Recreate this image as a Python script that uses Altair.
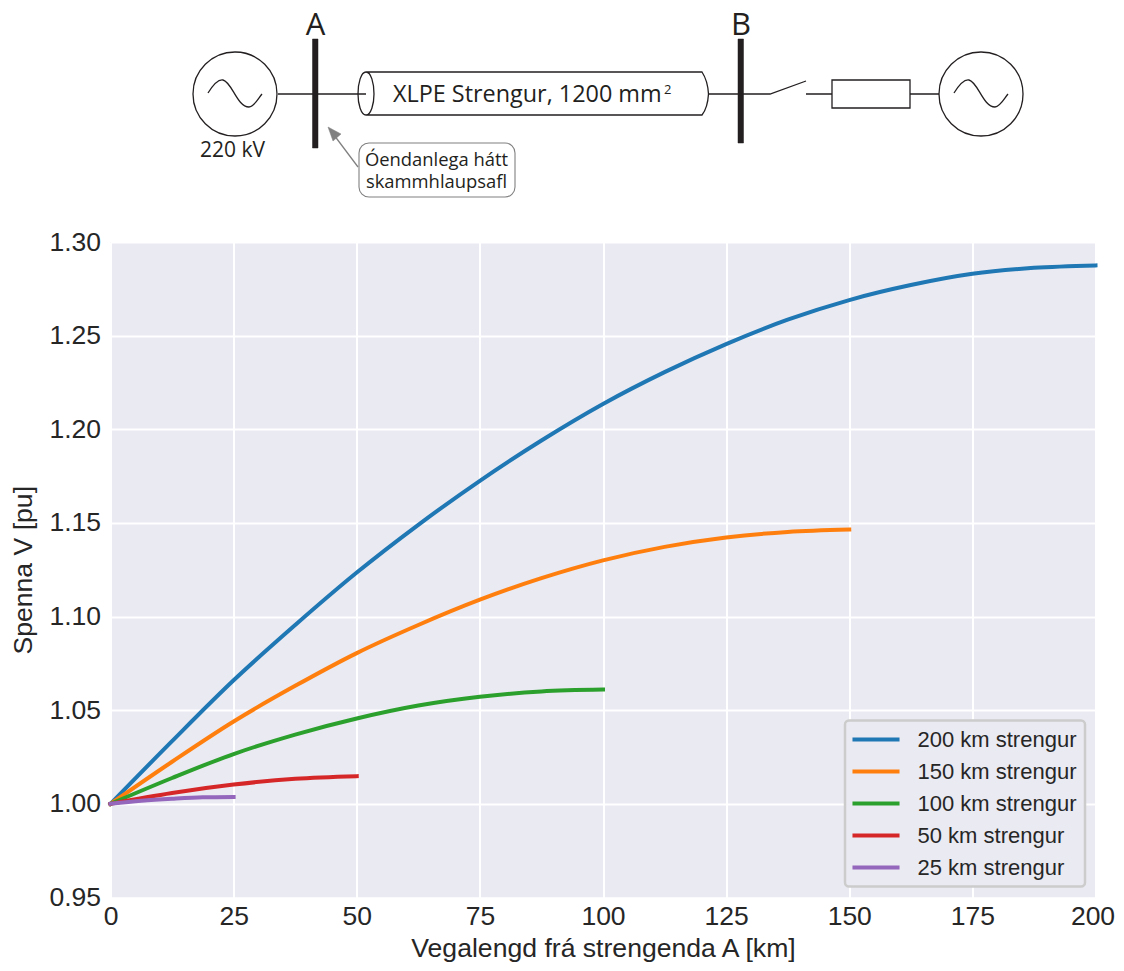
import altair as alt
import pandas as pd

# ---- readings from the picture ----
series_names = ["200 km strengur", "150 km strengur", "100 km strengur", "50 km strengur", "25 km strengur"]
series_colors = ["#1f77b4", "#ff7f0e", "#2ca02c", "#d62728", "#9467bd"]

x_200 = [0, 12.5, 25, 37.5, 50, 62.5, 75, 87.5, 100, 112.5, 125, 137.5, 150, 162.5, 175, 187.5, 200]
v_200 = [1.000, 1.0335, 1.066, 1.0955, 1.1235, 1.149, 1.1725, 1.194, 1.2135, 1.2305, 1.2455, 1.2585, 1.269, 1.277, 1.283, 1.2862, 1.2875]
x_150 = [0, 12.5, 25, 37.5, 50, 62.5, 75, 87.5, 100, 112.5, 125, 137.5, 150]
v_150 = [1.000, 1.0225, 1.044, 1.063, 1.0805, 1.0955, 1.109, 1.1205, 1.130, 1.1372, 1.1422, 1.1452, 1.1465]
x_100 = [0, 12.5, 25, 37.5, 50, 62.5, 75, 87.5, 100]
v_100 = [1.000, 1.0138, 1.0266, 1.037, 1.0456, 1.0525, 1.0572, 1.060, 1.061]
x_50 = [0, 12.5, 25, 37.5, 50]
v_50 = [1.000, 1.0058, 1.0103, 1.0134, 1.0148]
x_25 = [0, 6.25, 12.5, 18.75, 25]
v_25 = [1.000, 1.0016, 1.0027, 1.0035, 1.0037]

x_ticks = [0, 25, 50, 75, 100, 125, 150, 175, 200]
y_ticks = [0.95, 1.00, 1.05, 1.10, 1.15, 1.20, 1.25, 1.30]

rows = []
for name, xs, vs in zip(series_names, [x_200, x_150, x_100, x_50, x_25], [v_200, v_150, v_100, v_50, v_25]):
    rows += [{"km": a, "v": b, "series": name} for a, b in zip(xs, vs)]
df = pd.DataFrame(rows)

TXT = "#262626"
INK = "#231f20"
GRAY = "#808080"
OX, OY = 110.5, 242           # plot-area origin on the page
one = pd.DataFrame({"a": [0]})


def path(d, stroke=INK, width=1.3, fill=None):
    kw = dict(shape=d, size=4, opacity=1, stroke=stroke, strokeWidth=width, filled=fill is not None)
    if fill is not None:
        kw["fill"] = fill
    return alt.Chart(one).mark_point(**kw).encode(x=alt.value(-OX), y=alt.value(-OY))


def label(t, x, y, size, align="left", font="Open Sans", color=INK):
    return alt.Chart(one).mark_text(text=t, fontSize=size, font=font, align=align, baseline="alphabetic",
                                    color=color).encode(x=alt.value(x - OX), y=alt.value(y - OY))


def circle(cx, cy, r):
    return f"M{cx-r},{cy}A{r},{r} 0 1,1 {cx+r},{cy}A{r},{r} 0 1,1 {cx-r},{cy}Z"


def sine(x0, y0):
    return (f"M{x0},{y0}C{x0+5},{y0-8} {x0+10},{y0-14} {x0+15},{y0-13}"
            f"C{x0+24},{y0-11} {x0+29},{y0+14} {x0+41},{y0+14}C{x0+46},{y0+14} {x0+50},{y0+6} {x0+54},{y0+1}")


schematic = [
    path(circle(235, 94, 42)),
    path(sine(208, 93)),
    path(circle(981, 94, 42)),
    path(sine(954, 93)),
    path("M278,94L366,94"),
    path("M312.5,39L318,39L318,148L312.5,148Z", stroke=INK, width=0.5, fill=INK),
    path("M738,39L743.5,39L743.5,143L738,143Z", stroke=INK, width=0.5, fill=INK),
    # cable
    path("M366,72L702,72C706,78 708,86 708.5,94C708,102 706,110 702,115L366,115"
         "C361,115 358,104 358,94C358,83 361,72 366,72C371,72 374,83 374,94C374,104 371,115 366,115"),
    path("M709,94L770,94L806,81"),
    path("M806,94L832,94M910,94L939,94"),
    path("M832,80L910,80L910,108L832,108Z"),
    # short-circuit note
    path("M358,167L331,131", stroke=GRAY, width=1.3),
    path("M328,127L341,134L333,141Z", stroke=GRAY, width=0.5, fill=GRAY),
    path("M369,143L505,143A10,10 0 0,1 515,153L515,187A10,10 0 0,1 505,197L369,197A10,10 0 0,1 359,187L359,153A10,10 0 0,1 369,143Z",
         stroke=GRAY, width=1.1),
    label("A", 315.5, 35, 31, "center"),
    label("B", 741, 35, 31, "center"),
    label("XLPE Strengur, 1200 mm", 393, 102, 23.4),
    label("2", 664, 94, 13),
    label("220 kV", 200, 157, 21),
    label("Óendanlega hátt", 436.5, 166, 18.4, "center"),
    label("skammhlaupsafl", 436.5, 188, 18.4, "center"),
]

lines = alt.Chart(df).mark_line(strokeWidth=4, strokeCap="square", interpolate="monotone", clip=False).encode(
    x=alt.X("km:Q", scale=alt.Scale(domain=[0, 200], nice=False),
            axis=alt.Axis(values=x_ticks, title="Vegalengd frá strengenda A [km]", labelFlush=False,
                          labelOverlap=False, labelPadding=6, titlePadding=5,
                          labelOffset=alt.ExprRef("datum.value == 200 ? -3 : 0"))),
    y=alt.Y("v:Q", scale=alt.Scale(domain=[0.95, 1.30], nice=False, zero=False),
            axis=alt.Axis(values=y_ticks, format=".2f", title="Spenna V [pu]", labelFlush=False,
                          labelOverlap=False, labelPadding=10, titlePadding=11)),
    color=alt.Color("series:N", sort=series_names,
                    scale=alt.Scale(domain=series_names, range=series_colors),
                    legend=alt.Legend(title=None, orient="none", legendX=734.5, legendY=478.5, symbolType="M-2.94,0L2.94,0",
                                      symbolSize=256, symbolStrokeWidth=4, symbolOffset=12, labelFontSize=22,
                                      labelFont="Liberation Sans", labelColor=TXT, labelOffset=30.5, rowPadding=10, padding=8,
                                      fillColor="#EAEAF2", strokeColor="#cccccc", cornerRadius=4, labelLimit=300)),
    order=alt.Order("km:Q"),
    detail="series:N",
)

chart = alt.layer(lines, *schematic).properties(
    width=985, height=655.5,
    autosize=alt.AutoSizeParams(type="none"),
    padding={"left": 102.5, "top": 234, "right": 20.5, "bottom": 65.5},
    background="white",
).configure_view(fill="#EAEAF2", stroke=None).configure_axis(
    domain=False, ticks=False, grid=True, gridColor="white", gridWidth=2,
    labelFont="Liberation Sans", titleFont="Liberation Sans", labelFontSize=26.5, titleFontSize=26.6,
    labelColor=TXT, titleColor=TXT, titleFontWeight="normal",
).configure_legend(strokeWidth=2.5)

chart.save("out.html", embed_options={"renderer": "svg", "actions": False})
